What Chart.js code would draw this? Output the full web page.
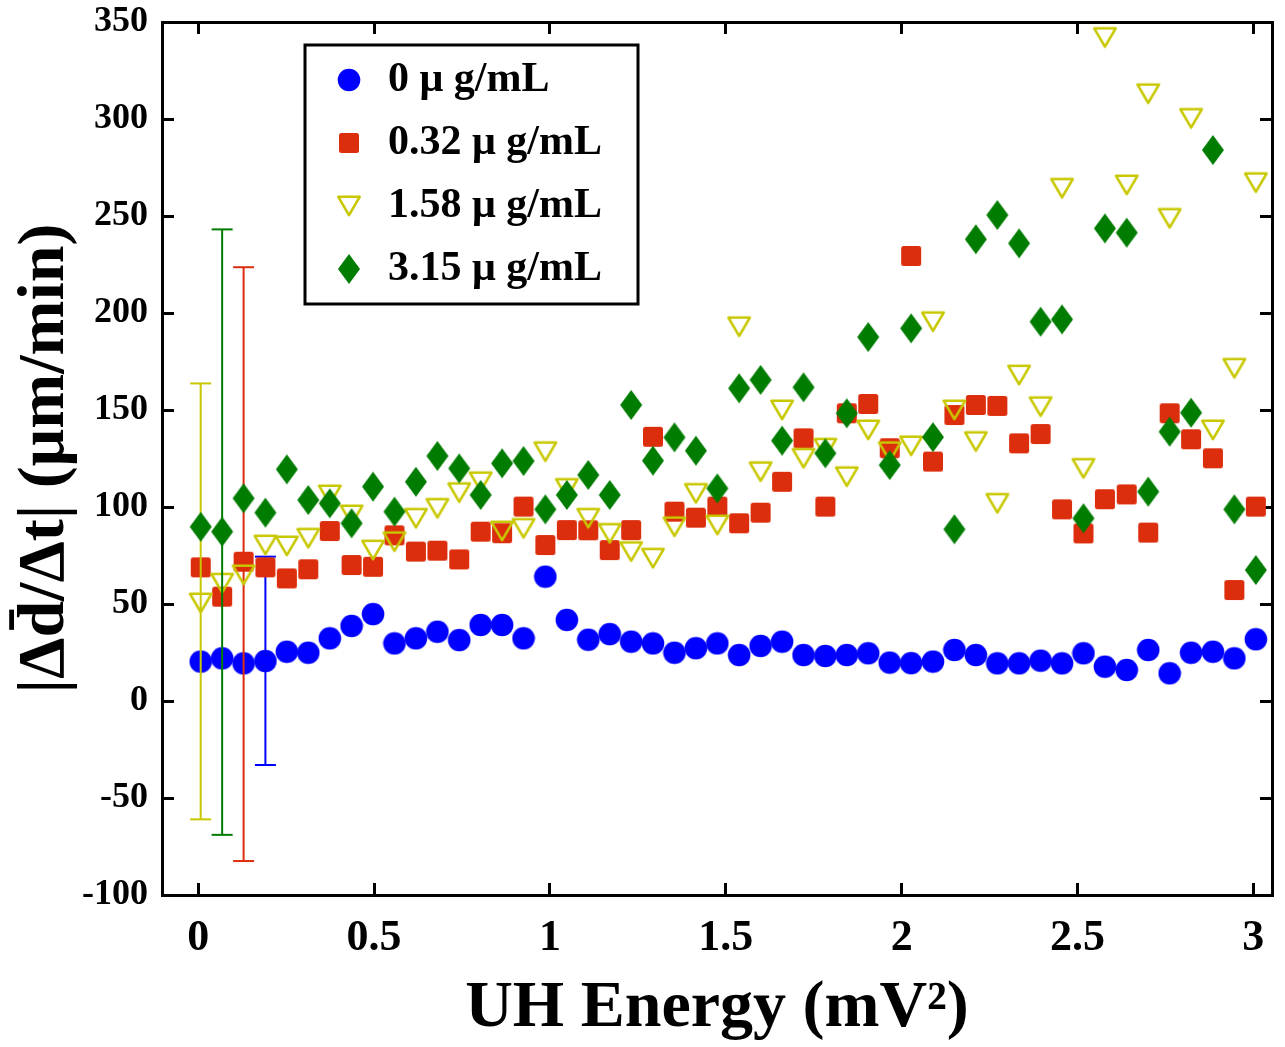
<!DOCTYPE html>
<html>
<head>
<meta charset="utf-8">
<script src="https://cdn.jsdelivr.net/npm/chart.js@4/dist/chart.umd.min.js"></script>
<style>
  html, body { margin: 0; padding: 0; background: #ffffff; }
  canvas { display: block; }
</style>
</head>
<body>
<canvas id="chart" width="1285" height="1047"></canvas>
<script>
// ---------------- data ----------------
const energy = [0.007, 0.068, 0.129, 0.191, 0.252, 0.313, 0.374, 0.436, 0.497, 0.558,
                0.619, 0.680, 0.742, 0.803, 0.864, 0.925, 0.987, 1.048, 1.109, 1.170,
                1.231, 1.293, 1.354, 1.415, 1.476, 1.538, 1.599, 1.660, 1.721, 1.783,
                1.844, 1.905, 1.966, 2.027, 2.089, 2.150, 2.211, 2.272, 2.334, 2.395,
                2.456, 2.517, 2.578, 2.640, 2.701, 2.762, 2.823, 2.885, 2.946, 3.007];

const rate0 = [20.3, 22.0, 19.4, 20.6, 25.4, 24.9, 32.3, 38.7, 44.8, 29.7,
               32.3, 35.7, 31.4, 39.2, 39.2, 32.3, 64.1, 41.8, 31.6, 34.5,
               30.6, 29.7, 24.9, 27.2, 29.7, 23.7, 28.4, 30.6, 23.7, 23.2,
               23.7, 24.6, 19.8, 19.5, 20.3, 26.3, 23.7, 19.4, 19.4, 20.8,
               19.4, 24.6, 17.7, 16.0, 26.3, 14.3, 24.9, 25.4, 22.0, 31.8];

const rate032 = [68.9, 53.8, 71.8, 68.9, 63.2, 67.9, 87.6, 70.1, 69.2, 85.4,
                 77.0, 77.5, 73.0, 87.3, 86.5, 100.2, 80.4, 88.1, 88.0, 77.8,
                 88.1, 136.2, 97.6, 94.5, 100.2, 91.6, 97.1, 113.0, 135.4, 100.2,
                 148.3, 153.1, 130.3, 229.4, 123.4, 147.4, 152.6, 152.1, 132.8, 137.6,
                 98.8, 86.4, 104.0, 106.5, 86.8, 148.3, 134.9, 125.1, 57.2, 100.2];

const rate158 = [50.5, 60.7, 65.0, 80.4, 79.9, 83.9, 106.2, 95.9, 77.8, 82.1,
                 94.2, 99.3, 107.4, 113.0, 87.6, 89.0, 128.5, 109.6, 94.2, 86.4,
                 77.0, 73.6, 89.8, 107.0, 90.7, 192.9, 118.2, 150.0, 125.1, 130.3,
                 115.6, 139.7, 128.5, 131.5, 195.5, 150.0, 133.7, 101.9, 168.0, 151.7,
                 264.3, 119.9, 342.0, 266.0, 313.0, 248.8, 300.3, 139.7, 171.5, 267.2];

const rate315 = [89.8, 87.3, 104.5, 97.1, 119.4, 103.6, 101.9, 91.6, 110.5, 97.6,
                 113.0, 126.3, 119.9, 106.2, 122.5, 123.7, 98.8, 106.2, 116.5, 106.2,
                 152.6, 123.9, 135.9, 129.0, 109.6, 161.2, 165.5, 134.2, 161.7, 127.7,
                 148.3, 187.6, 121.6, 192.1, 136.0, 88.5, 238.0, 250.5, 235.9, 195.5,
                 196.7, 94.2, 243.6, 241.4, 107.9, 138.8, 148.6, 284.0, 98.8, 67.5];

const seriesLabels = ['0 μ g/mL', '0.32 μ g/mL', '1.58 μ g/mL', '3.15 μ g/mL'];

// one error bar per series: point index, lower and upper end
const errIndex = [3, 2, 0, 1];
const errLow   = [-33.0, -82.5, -61.0, -69.0];
const errHigh  = [74.4, 223.6, 163.7, 243.1];

const xTickValues = [0, 0.5, 1, 1.5, 2, 2.5, 3];
const xTickLabels = ['0', '0.5', '1', '1.5', '2', '2.5', '3'];
const yTickValues = [-100, -50, 0, 50, 100, 150, 200, 250, 300, 350];
const yTickLabels = ['-100', '-50', '0', '50', '100', '150', '200', '250', '300', '350'];

const xTitle = 'UH Energy (mV²)';
const yTitle = '|Δd\u0304/Δt| (μm/min)';

// ---------------- styles ----------------
const SERIF = '"Liberation Serif", "Times New Roman", serif';
const BLUE = '#0000FF';
const RED = '#DC2D0C';
const YELLOW = '#C8C800';
const GREEN = '#007D00';

function marker(w, h, paint) {
  const c = document.createElement('canvas');
  c.width = w; c.height = h;
  paint(c.getContext('2d'));
  return c;
}
const circleImg = marker(24, 24, g => {
  g.fillStyle = BLUE; g.beginPath(); g.arc(12, 12, 11.3, 0, Math.PI * 2); g.fill();
});
const squareImg = marker(22, 22, g => {
  g.fillStyle = RED; g.beginPath();
  if (g.roundRect) g.roundRect(1, 1, 20, 20, 2.5); else g.rect(1, 1, 20, 20);
  g.fill();
});
const triangleImg = marker(26, 24, g => {
  g.strokeStyle = YELLOW; g.lineWidth = 2.6; g.lineJoin = 'round';
  g.beginPath(); g.moveTo(2.3, 2.8); g.lineTo(23.7, 2.8); g.lineTo(13, 21.2); g.closePath(); g.stroke();
});
const diamondImg = marker(24, 32, g => {
  g.fillStyle = GREEN; g.beginPath();
  g.moveTo(12, 1); g.lineTo(23, 16); g.lineTo(12, 31); g.lineTo(1, 16); g.closePath(); g.fill();
});

const seriesValues = [rate0, rate032, rate158, rate315];
const seriesColors = [BLUE, RED, YELLOW, GREEN];
const seriesMarkers = [circleImg, squareImg, triangleImg, diamondImg];
const seriesOrder = [7, 5, 3, 1];     // drawing order: green on top, blue at the bottom
const errOrder = [6, 4, 2, 0];

const datasets = seriesValues.map((vals, s) => ({
  type: 'scatter',
  label: seriesLabels[s],
  data: energy.map((x, i) => ({ x: x, y: vals[i] })),
  pointStyle: seriesMarkers[s],
  pointRadius: 12,
  pointHoverRadius: 12,
  backgroundColor: seriesColors[s],
  borderColor: seriesColors[s],
  order: seriesOrder[s],
  clip: false
}));
seriesValues.forEach((vals, s) => {
  const xi = energy[errIndex[s]];
  datasets.push({
    type: 'scatter',
    label: seriesLabels[s] + ' error',
    data: [{ x: xi, y: errLow[s] }, { x: xi, y: errHigh[s] }],
    showLine: true,
    fill: false,
    tension: 0,
    borderColor: seriesColors[s],
    borderWidth: 2,
    pointStyle: 'line',
    pointRadius: 10.5,
    pointHoverRadius: 10.5,
    pointBorderWidth: 2,
    pointBorderColor: seriesColors[s],
    order: errOrder[s],
    clip: false
  });
});

const gridCommon = {
  display: true, drawOnChartArea: false, drawTicks: true,
  tickLength: -12, tickWidth: 3, tickColor: '#000000'
};
const borderCommon = { display: true, color: '#000000', width: 3 };

function fixSize(prop, size) {
  return s => {
    s[prop] = size;
    s.paddingTop = 0; s.paddingBottom = 0; s.paddingLeft = 0; s.paddingRight = 0;
  };
}

const legendBox = {
  id: 'legendBox',
  afterLayout(chart) {
    const ca = chart.chartArea;
    chart.legend.left = ca.left + 148;
    chart.legend.top = ca.top + 16;
  },
  afterDraw(chart) {
    const ca = chart.chartArea, ctx = chart.ctx;
    ctx.save();
    ctx.strokeStyle = '#000000';
    ctx.lineWidth = 3;
    ctx.strokeRect(ca.left + 143, ca.top + 23, 333, 259);
    ctx.restore();
  }
};

new Chart(document.getElementById('chart'), {
  type: 'scatter',
  data: { datasets: datasets },
  options: {
    responsive: false,
    animation: false,
    events: [],
    layout: { padding: { top: 22, right: 13, bottom: 0, left: 0 } },
    scales: {
      x: {
        type: 'linear', position: 'bottom', min: -0.103, max: 3.053,
        afterBuildTicks: s => { s.ticks = xTickValues.map(v => ({ value: v })); },
        afterFit: fixSize('height', 152),
        grid: gridCommon, border: borderCommon,
        ticks: {
          autoSkip: false, maxRotation: 0, minRotation: 0, padding: 29, color: '#000000',
          font: { family: SERIF, size: 44, weight: 'bold' },
          callback: (v, i) => xTickLabels[i]
        },
        title: {
          display: true, text: xTitle, color: '#000000',
          font: { family: SERIF, size: 66, weight: 'bold' },
          padding: { top: 0, bottom: -2 }
        }
      },
      x2: {
        type: 'linear', position: 'top', min: -0.103, max: 3.053,
        afterBuildTicks: s => { s.ticks = xTickValues.map(v => ({ value: v })); },
        afterFit: fixSize('height', 0),
        grid: gridCommon, border: borderCommon,
        ticks: { display: false }
      },
      y: {
        type: 'linear', position: 'left', min: -100, max: 350,
        afterBuildTicks: s => { s.ticks = yTickValues.map(v => ({ value: v })); },
        afterFit: fixSize('width', 162),
        grid: gridCommon, border: borderCommon,
        ticks: {
          autoSkip: false, padding: 26, color: '#000000',
          font: { family: SERIF, size: 36, weight: 'bold' },
          callback: (v, i) => yTickLabels[i]
        },
        title: {
          display: true, text: yTitle, color: '#000000',
          font: { family: SERIF, size: 66, weight: 'bold' },
          padding: { top: 6, bottom: 0 }
        }
      },
      y2: {
        type: 'linear', position: 'right', min: -100, max: 350,
        afterBuildTicks: s => { s.ticks = yTickValues.map(v => ({ value: v })); },
        afterFit: fixSize('width', 0),
        grid: gridCommon, border: borderCommon,
        ticks: { display: false }
      }
    },
    plugins: {
      tooltip: { enabled: false },
      legend: {
        display: true,
        position: 'chartArea',
        align: 'start',
        labels: {
          usePointStyle: true,
          pointStyleWidth: 36,
          padding: 21,
          color: '#000000',
          font: { family: SERIF, size: 42, weight: 'bold' },
          filter: item => item.datasetIndex < 4,
          sort: (a, b) => a.datasetIndex - b.datasetIndex
        }
      }
    }
  },
  plugins: [legendBox]
});
</script>
</body>
</html>
